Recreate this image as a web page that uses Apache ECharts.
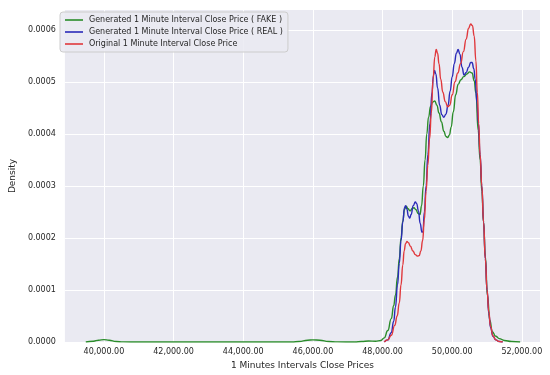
<!DOCTYPE html>
<html>
<head>
<meta charset="utf-8">
<script src="https://cdn.jsdelivr.net/npm/echarts@6/dist/echarts.min.js"></script>
<style>
  html, body { margin: 0; padding: 0; background: #fff; }
  #kde-chart { width: 550px; height: 375px; }
</style>
</head>
<body>
<div id="kde-chart"></div>
<script>
// values (price, density)
var fakePrice = [39480, 39700, 39850, 40000, 40150, 40350, 40550, 41000, 45400, 45600, 45850, 46000, 46200, 46450, 46700, 47200, 47400, 47600, 47800, 47950, 48050, 48150, 48250, 48320, 48370, 48430, 48480, 48530, 48580, 48630, 48680, 48730, 48790, 48850, 48900, 48960, 49020, 49075, 49120, 49170, 49220, 49270, 49320, 49380, 49440, 49500, 49560, 49620, 49690, 49760, 49820, 49870, 49920, 49970, 50030, 50100, 50170, 50250, 50330, 50420, 50500, 50570, 50630, 50680, 50745, 50800, 50850, 50900, 50950, 51010, 51080, 51150, 51250, 51350, 51500, 51700, 51950];
var fakeDensity = [0, 0.0000015, 0.0000035, 0.0000045, 0.0000035, 0.000001, 0.0000002, 0, 0, 0.000001, 0.0000035, 0.000004, 0.0000035, 0.000001, 0.0000002, 0, 0.000001, 0.0000018, 0.0000015, 0.000003, 0.000008, 0.000022, 0.000045, 0.00007, 0.00009, 0.000125, 0.00016, 0.0002, 0.000232, 0.000255, 0.000261, 0.000256, 0.000252, 0.000256, 0.000258, 0.000254, 0.000247, 0.000245, 0.000262, 0.0003, 0.00035, 0.0004, 0.000432, 0.000453, 0.000461, 0.000463, 0.000455, 0.00044, 0.000423, 0.000405, 0.000395, 0.000393, 0.000398, 0.000413, 0.000442, 0.000475, 0.000495, 0.000504, 0.00051, 0.000515, 0.000519, 0.000517, 0.000502, 0.000478, 0.000407, 0.00035, 0.00029, 0.00023, 0.000165, 0.00009, 0.000042, 0.00002, 0.000011, 0.0000065, 0.000003, 0.000001, 0];

var realPrice = [48050, 48150, 48250, 48320, 48370, 48430, 48480, 48530, 48580, 48630, 48660, 48700, 48740, 48780, 48820, 48880, 48940, 48980, 49030, 49080, 49130, 49160, 49200, 49250, 49300, 49360, 49420, 49460, 49490, 49530, 49580, 49640, 49700, 49760, 49820, 49880, 49940, 50000, 50060, 50120, 50170, 50220, 50280, 50340, 50400, 50470, 50530, 50570, 50620, 50660, 50710, 50750, 50800, 50850, 50900, 50950, 51000, 51050, 51100, 51170, 51250, 51350, 51450];
var realDensity = [0, 0.000004, 0.000018, 0.00004, 0.000067, 0.00011, 0.000151, 0.000195, 0.00023, 0.000258, 0.000262, 0.000255, 0.000242, 0.000238, 0.000245, 0.000262, 0.000269, 0.000266, 0.000252, 0.000228, 0.000211, 0.000212, 0.00025, 0.0003, 0.00036, 0.00042, 0.00048, 0.000512, 0.000522, 0.000515, 0.000488, 0.000455, 0.000437, 0.000432, 0.000438, 0.000455, 0.000482, 0.00051, 0.000535, 0.000555, 0.000562, 0.000553, 0.000528, 0.000513, 0.000518, 0.000528, 0.000537, 0.000537, 0.000525, 0.000505, 0.00046, 0.00042, 0.00036, 0.0003, 0.00023, 0.00016, 0.0001, 0.000055, 0.000028, 0.000011, 0.000004, 0.000001, 0];

var origPrice = [48050, 48150, 48250, 48350, 48420, 48480, 48530, 48580, 48620, 48660, 48700, 48740, 48800, 48870, 48940, 49000, 49050, 49100, 49150, 49200, 49250, 49300, 49350, 49400, 49450, 49500, 49540, 49580, 49620, 49670, 49730, 49800, 49870, 49930, 50000, 50080, 50160, 50240, 50320, 50400, 50470, 50530, 50580, 50630, 50680, 50720, 50760, 50800, 50850, 50900, 50950, 51000, 51050, 51100, 51170, 51250, 51350, 51450];
var origDensity = [0, 0.000004, 0.000013, 0.000032, 0.00005, 0.000075, 0.00011, 0.000148, 0.000175, 0.000189, 0.000193, 0.000191, 0.000184, 0.000175, 0.000168, 0.000165, 0.000166, 0.000175, 0.000195, 0.000235, 0.00029, 0.00034, 0.00039, 0.00044, 0.000505, 0.000548, 0.000562, 0.000555, 0.000535, 0.000505, 0.00048, 0.000462, 0.000452, 0.000455, 0.000475, 0.0005, 0.000517, 0.000535, 0.000558, 0.000582, 0.000603, 0.000611, 0.000608, 0.000588, 0.00054, 0.00048, 0.00042, 0.00036, 0.0003, 0.00023, 0.00016, 0.0001, 0.000058, 0.00003, 0.000012, 0.000004, 0.000001, 0];

var seriesNames = [
  'Generated 1 Minute Interval Close Price ( FAKE )',
  'Generated 1 Minute Interval Close Price ( REAL )',
  'Original 1 Minute Interval Close Price'
];
var xTicks = [40000, 42000, 44000, 46000, 48000, 50000, 52000];
var yTicks = [0, 0.0001, 0.0002, 0.0003, 0.0004, 0.0005, 0.0006];

function pairs (xs, ys) {
  return xs.map(function (x, i) { return [x, ys[i]]; });
}

var lineColors = ['#2a8c2a', '#2a2ab8', '#e0383c'];
var fontFamily = 'DejaVu Sans';

function kdeLine (name, data, color) {
  return {
    name: name,
    type: 'line',
    data: data,
    smooth: 0.5,
    smoothMonotone: 'x',
    showSymbol: false,
    lineStyle: { color: color, width: 1.4 },
    itemStyle: { color: color }
  };
}

var kdeOption = {
  animation: false,
  grid: {
    left: 58, right: 10, top: 10, bottom: 33,
    show: true, backgroundColor: '#EAEAF2', borderWidth: 0
  },
  legend: {
    orient: 'vertical',
    left: 60, top: 12,
    icon: 'rect',
    itemWidth: 18, itemHeight: 1.6,
    itemGap: 4,
    padding: [4, 5, 4, 5],
    backgroundColor: 'rgba(234,234,242,0.85)',
    borderColor: '#cccccc', borderWidth: 1, borderRadius: 3,
    textStyle: { fontFamily: fontFamily, fontSize: 8, color: '#262626', padding: [0, 0, 0, 1] },
    data: seriesNames
  },
  xAxis: {
    type: 'value',
    min: 38880, max: 52520,
    name: '1 Minutes Intervals Close Prices',
    nameLocation: 'middle', nameGap: 17,
    nameTextStyle: { fontFamily: fontFamily, fontSize: 9, color: '#262626' },
    axisLine: { show: false },
    axisTick: { show: false, customValues: xTicks },
    axisLabel: {
      customValues: xTicks,
      margin: 6,
      fontFamily: fontFamily, fontSize: 8, color: '#262626',
      formatter: function (v) {
        return v.toLocaleString('en-US', { minimumFractionDigits: 2, maximumFractionDigits: 2 });
      }
    },
    splitLine: { show: true, lineStyle: { color: '#ffffff', width: 1 } }
  },
  yAxis: {
    type: 'value',
    min: 0, max: 0.000638,
    name: 'Density',
    nameLocation: 'middle', nameGap: 40,
    nameTextStyle: { fontFamily: fontFamily, fontSize: 9, color: '#262626' },
    axisLine: { show: false },
    axisTick: { show: false, customValues: yTicks },
    axisLabel: {
      customValues: yTicks,
      margin: 9,
      fontFamily: fontFamily, fontSize: 8, color: '#262626',
      formatter: function (v) { return v.toFixed(4); }
    },
    splitLine: { show: true, lineStyle: { color: '#ffffff', width: 1 } }
  },
  series: [
    kdeLine(seriesNames[0], pairs(fakePrice, fakeDensity), lineColors[0]),
    kdeLine(seriesNames[1], pairs(realPrice, realDensity), lineColors[1]),
    kdeLine(seriesNames[2], pairs(origPrice, origDensity), lineColors[2])
  ]
};

var kdeChart = echarts.init(document.getElementById('kde-chart'));
kdeChart.setOption(kdeOption);
</script>
</body>
</html>
